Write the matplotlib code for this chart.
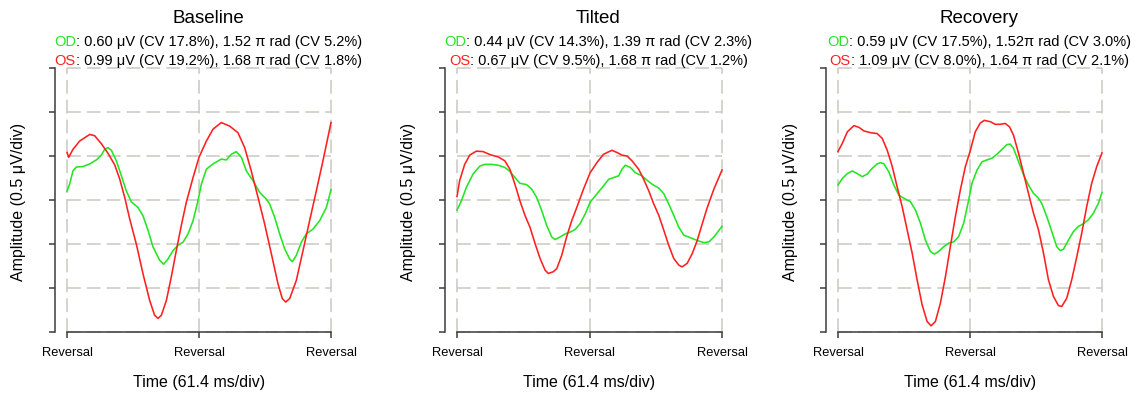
import matplotlib
matplotlib.use("Agg")
import matplotlib.pyplot as plt
from matplotlib.transforms import IdentityTransform

plt.rcParams['font.family'] = ['Liberation Sans', 'DejaVu Sans']

# ---------------- data (x: time in reversal units, y: amplitude in divisions, 0.5 uV/div) ----
titles = ["Baseline", "Tilted", "Recovery"]
od_text = ["OD: 0.60 \u03bcV (CV 17.8%), 1.52 \u03c0 rad (CV 5.2%)",
           "OD: 0.44 \u03bcV (CV 14.3%), 1.39 \u03c0 rad (CV 2.3%)",
           "OD: 0.59 \u03bcV (CV 17.5%), 1.52\u03c0 rad (CV 3.0%)"]
os_text = ["OS: 0.99 \u03bcV (CV 19.2%), 1.68 \u03c0 rad (CV 1.8%)",
           "OS: 0.67 \u03bcV (CV 9.5%), 1.68 \u03c0 rad (CV 1.2%)",
           "OS: 1.09 \u03bcV (CV 8.0%), 1.64 \u03c0 rad (CV 2.1%)"]
x_ticks = [0, 1, 2]
x_ticklabels = ["Reversal", "Reversal", "Reversal"]
y_ticks = [-3, -2, -1, 0, 1, 2, 3]

base_od_x = [0, 0.020, 0.045, 0.071, 0.121, 0.172, 0.222, 0.260, 0.285, 0.311, 0.336, 0.374, 0.412,
             0.449, 0.487, 0.538, 0.576, 0.614, 0.652, 0.702, 0.732, 0.765, 0.803, 0.841, 0.879, 0.917,
             0.955, 0.992, 1.018, 1.056, 1.106, 1.169, 1.207, 1.245, 1.283, 1.321, 1.359, 1.409, 1.460,
             1.510, 1.535, 1.573, 1.611, 1.649, 1.687, 1.707, 1.737, 1.775, 1.813, 1.864, 1.914, 1.965, 2.0]
base_od_y = [0.20, 0.36, 0.66, 0.75, 0.76, 0.82, 0.91, 1.02, 1.15, 1.19, 1.13, 0.89, 0.55, 0.21, -0.04,
             -0.17, -0.36, -0.69, -1.07, -1.37, -1.46, -1.34, -1.15, -1.03, -0.96, -0.77, -0.47, -0.02,
             0.36, 0.70, 0.82, 0.93, 0.91, 1.04, 1.10, 0.97, 0.66, 0.44, 0.17, 0.02, -0.09, -0.39, -0.77,
             -1.11, -1.34, -1.40, -1.26, -0.96, -0.77, -0.66, -0.47, -0.17, 0.23]
base_os_x = [0.000, 0.013, 0.045, 0.096, 0.172, 0.210, 0.260, 0.311, 0.361, 0.399, 0.437, 0.475, 0.525,
             0.576, 0.626, 0.664, 0.689, 0.715, 0.753, 0.790, 0.828, 0.866, 0.904, 0.955, 1.000, 1.056,
             1.106, 1.169, 1.232, 1.295, 1.346, 1.396, 1.447, 1.497, 1.548, 1.598, 1.631, 1.657, 1.687,
             1.737, 1.788, 1.838, 1.889, 1.939, 2.000]
base_os_y = [1.08, 0.97, 1.15, 1.34, 1.49, 1.46, 1.28, 1.06, 0.80, 0.48, 0.06, -0.43, -1.00, -1.68, -2.28,
             -2.62, -2.69, -2.62, -2.28, -1.75, -1.15, -0.58, -0.05, 0.51, 0.97, 1.34, 1.61, 1.76, 1.68,
             1.53, 1.19, 0.66, 0.06, -0.54, -1.22, -1.90, -2.24, -2.32, -2.24, -1.83, -1.15, -0.47, 0.21,
             0.89, 1.76]

tilt_od_x = [0, 0.033, 0.071, 0.121, 0.172, 0.210, 0.260, 0.311, 0.361, 0.399, 0.437, 0.475, 0.525, 0.563,
             0.601, 0.639, 0.677, 0.715, 0.740, 0.778, 0.816, 0.854, 0.891, 0.929, 0.967, 1.005, 1.056,
             1.106, 1.144, 1.182, 1.220, 1.245, 1.270, 1.308, 1.346, 1.396, 1.434, 1.472, 1.523, 1.561,
             1.598, 1.636, 1.674, 1.712, 1.763, 1.813, 1.864, 1.902, 1.939, 1.977, 2.0]
tilt_od_y = [-0.23, -0.02, 0.29, 0.59, 0.77, 0.81, 0.81, 0.79, 0.74, 0.65, 0.51, 0.38, 0.35, 0.25, 0.06,
             -0.24, -0.58, -0.84, -0.90, -0.84, -0.77, -0.73, -0.67, -0.54, -0.32, -0.05, 0.14, 0.32, 0.47,
             0.51, 0.55, 0.70, 0.79, 0.74, 0.62, 0.55, 0.45, 0.36, 0.27, 0.14, -0.09, -0.35, -0.62, -0.80,
             -0.86, -0.92, -0.97, -0.95, -0.84, -0.69, -0.60]
tilt_os_x = [0, 0.020, 0.058, 0.096, 0.146, 0.197, 0.235, 0.260, 0.311, 0.361, 0.399, 0.437, 0.475, 0.513,
             0.551, 0.588, 0.626, 0.664, 0.689, 0.727, 0.753, 0.790, 0.828, 0.866, 0.904, 0.955, 1.005,
             1.056, 1.106, 1.169, 1.207, 1.245, 1.283, 1.321, 1.371, 1.409, 1.447, 1.485, 1.523, 1.561,
             1.598, 1.636, 1.674, 1.699, 1.737, 1.775, 1.813, 1.851, 1.889, 1.939, 2.0]
tilt_os_y = [0.08, 0.44, 0.81, 1.02, 1.11, 1.10, 1.05, 1.02, 0.98, 0.89, 0.70, 0.36, -0.02, -0.35, -0.62,
             -0.98, -1.32, -1.59, -1.67, -1.63, -1.56, -1.26, -0.83, -0.47, -0.17, 0.25, 0.62, 0.85, 1.04,
             1.13, 1.08, 1.02, 1.00, 0.89, 0.70, 0.47, 0.21, -0.09, -0.35, -0.69, -1.03, -1.33, -1.48,
             -1.52, -1.44, -1.22, -0.92, -0.54, -0.17, 0.25, 0.68]

rec_od_x = [0, 0.033, 0.071, 0.108, 0.146, 0.184, 0.222, 0.259, 0.297, 0.322, 0.348, 0.385, 0.423, 0.461,
            0.499, 0.549, 0.587, 0.625, 0.662, 0.700, 0.730, 0.763, 0.801, 0.839, 0.877, 0.914, 0.952,
            0.990, 1.015, 1.053, 1.091, 1.128, 1.166, 1.204, 1.242, 1.280, 1.305, 1.330, 1.368, 1.406,
            1.443, 1.481, 1.519, 1.544, 1.582, 1.620, 1.657, 1.683, 1.708, 1.746, 1.783, 1.821, 1.859,
            1.897, 1.935, 1.972, 2.0]
rec_od_y = [0.34, 0.49, 0.60, 0.66, 0.60, 0.53, 0.59, 0.72, 0.82, 0.85, 0.82, 0.64, 0.34, 0.11, 0.04, -0.04,
            -0.23, -0.53, -0.91, -1.17, -1.23, -1.17, -1.06, -0.98, -0.95, -0.83, -0.53, 0.00, 0.38, 0.68,
            0.87, 0.91, 0.95, 1.04, 1.15, 1.26, 1.27, 1.17, 0.87, 0.57, 0.34, 0.15, 0.04, -0.08, -0.38,
            -0.72, -1.06, -1.15, -1.12, -0.91, -0.72, -0.60, -0.54, -0.45, -0.30, -0.08, 0.17]
rec_os_x = [0.0, 0.033, 0.071, 0.121, 0.159, 0.196, 0.247, 0.297, 0.335, 0.373, 0.411, 0.448, 0.486, 0.524,
            0.562, 0.599, 0.637, 0.675, 0.705, 0.738, 0.776, 0.814, 0.851, 0.889, 0.927, 0.965, 1.003,
            1.040, 1.078, 1.108, 1.154, 1.191, 1.229, 1.267, 1.300, 1.330, 1.368, 1.406, 1.443, 1.481,
            1.519, 1.557, 1.594, 1.632, 1.670, 1.695, 1.733, 1.771, 1.809, 1.846, 1.884, 1.922, 1.960, 2.0]
rec_os_y = [1.10, 1.29, 1.55, 1.69, 1.65, 1.57, 1.53, 1.51, 1.40, 1.13, 0.76, 0.30, -0.15, -0.68, -1.21,
            -1.81, -2.38, -2.76, -2.86, -2.76, -2.34, -1.74, -1.06, -0.38, 0.23, 0.76, 1.13, 1.55, 1.75,
            1.81, 1.78, 1.72, 1.72, 1.74, 1.66, 1.47, 1.06, 0.60, 0.15, -0.30, -0.68, -1.21, -1.81, -2.19,
            -2.40, -2.42, -2.23, -1.81, -1.29, -0.76, -0.15, 0.38, 0.76, 1.07]

od_series = [(base_od_x, base_od_y), (tilt_od_x, tilt_od_y), (rec_od_x, rec_od_y)]
os_series = [(base_os_x, base_os_y), (tilt_os_x, tilt_os_y), (rec_os_x, rec_os_y)]

# ---------------- style / layout ----------------
W, H = 1140, 398
GREEN = "#22e622"
RED = "#ff1f1f"
GRID = "#c9c8c0"
AXC = "#3c3c3c"
axes_px = [(67, 68, 331, 332), (457, 68, 722, 332), (838, 68, 1102, 332)]

fig = plt.figure(figsize=(W / 100, H / 100), dpi=100)
fig.patch.set_facecolor("white")
renderer = fig.canvas.get_renderer()


def rich_line(cx, base_y, parts, size):
    texts, widths = [], []
    for s, c in parts:
        t = fig.text(0, 0, s, color=c, fontsize=size, transform=IdentityTransform(),
                     ha="left", va="baseline")
        widths.append(t.get_window_extent(renderer).width)
        texts.append(t)
    x = cx - sum(widths) / 2
    for t, w in zip(texts, widths):
        t.set_position((x, H - base_y))
        x += w


for i, (l, t, r, b) in enumerate(axes_px):
    ax = fig.add_axes([l / W, 1 - b / H, (r - l) / W, (b - t) / H])
    ax.set_xlim(0, 2)
    ax.set_ylim(-3, 3)
    ax.set_facecolor("none")
    for yv in y_ticks:
        ax.axhline(yv, color=GRID, lw=1.1, ls=(0, (9, 4)), clip_on=False, zorder=1)
    for xv in x_ticks:
        ax.axvline(xv, color=GRID, lw=1.1, ls=(0, (9, 4)), clip_on=False, zorder=1)
    ax.plot(od_series[i][0], od_series[i][1], color=GREEN, lw=1.15, clip_on=False, zorder=3)
    ax.plot(os_series[i][0], os_series[i][1], color=RED, lw=1.15, clip_on=False, zorder=4)

    for s in ("top", "right"):
        ax.spines[s].set_visible(False)
    ax.spines["left"].set_position(("outward", 12 * 0.72))
    for s in ("left", "bottom"):
        ax.spines[s].set_color(AXC)
        ax.spines[s].set_linewidth(1.1)
        ax.spines[s].set_zorder(2.5)
    ax.set_yticks(y_ticks)
    ax.set_yticklabels([])
    ax.set_xticks(x_ticks)
    ax.set_xticklabels(x_ticklabels, fontsize=9.3)
    ax.tick_params(axis="both", direction="out", length=4, width=1.1, color=AXC)
    ax.tick_params(axis="x", pad=7)

    cx = (l + r) / 2
    tc = cx + 9
    fig.text(tc / W, 1 - 23 / H, titles[i], fontsize=13.5, ha="center", va="baseline")
    rich_line(tc, 46, [(od_text[i][:2], GREEN), (od_text[i][2:], "black")], 10.5)
    rich_line(tc, 65, [(os_text[i][:2], RED), (os_text[i][2:], "black")], 10.5)

    fig.text(cx / W, 1 - 383 / H, "Time (61.4 ms/div)", fontsize=11.5, ha="center", va="center")
    fig.text((l - 48) / W, 1 - 202 / H, "Amplitude (0.5 \u03bcV/div)", fontsize=11.5,
             rotation=90, ha="center", va="center")

fig.savefig("out.png", dpi=100, facecolor="white")
